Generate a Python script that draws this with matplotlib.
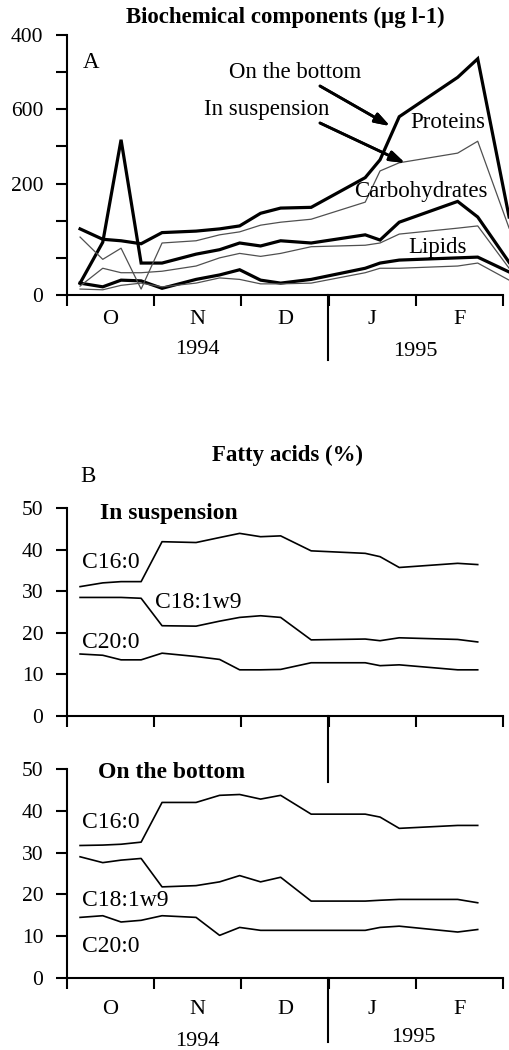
import numpy as np
import matplotlib
matplotlib.use('Agg')
import matplotlib.pyplot as plt
from matplotlib.lines import Line2D

plt.rcParams['font.family'] = ['Liberation Serif', 'DejaVu Serif']

# sampling dates, in months from 1 October 1994
dates = [0.15, 0.41, 0.62, 0.85, 1.09, 1.48, 1.75, 1.98, 2.22, 2.45, 2.80,
         3.42, 3.59, 3.81, 4.48, 4.71, 5.07]
months = ['O', 'N', 'D', 'J', 'F']

# A: biochemical components (axis units as printed)
prot_bottom = [89, 75, 73, 69, 84, 86, 89, 93, 110, 117, 118, 158, 182, 240, 293, 318, 105]
prot_susp = [78, 48, 63, 8, 70, 73, 81, 85, 94, 98, 102, 125, 167, 178, 191, 207, 90]
carb_bottom = [16, 71, 209, 43, 43, 55, 61, 70, 66, 73, 70, 81, 74, 98, 126, 105, 44]
carb_susp = [12, 36, 30, 30, 32, 39, 50, 56, 52, 56, 65, 67, 70, 82, 90, 93, 36]
lip_bottom = [16, 11, 20, 19, 9, 21, 27, 34, 20, 16, 21, 36, 43, 47, 50, 51, 31]
lip_susp = [8, 7, 13, 16, 11, 16, 23, 21, 15, 15, 16, 30, 36, 36, 39, 43, 20]
a_ticks = [0, 50, 100, 150, 200, 250, 300, 350]
a_ticklabels = ['0', '', '', '200', '', '600', '', '400']

# B: fatty acids (%)
c16_susp = [31.1, 32.0, 32.3, 32.3, 41.9, 41.7, 42.9, 43.9, 43.1, 43.3, 39.7, 39.1, 38.3, 35.7, 36.7, 36.4]
c18_susp = [28.5, 28.5, 28.5, 28.3, 21.7, 21.6, 22.8, 23.7, 24.1, 23.7, 18.3, 18.5, 18.1, 18.8, 18.4, 17.8]
c20_susp = [14.9, 14.6, 13.5, 13.5, 15.1, 14.3, 13.6, 11.1, 11.1, 11.2, 12.8, 12.8, 12.1, 12.3, 11.1, 11.1]
c16_bottom = [31.7, 31.8, 32.0, 32.5, 42.0, 42.0, 43.7, 43.9, 42.8, 43.7, 39.2, 39.2, 38.5, 35.8, 36.5, 36.5]
c18_bottom = [29.0, 27.6, 28.2, 28.6, 21.8, 22.1, 23.0, 24.5, 23.0, 24.1, 18.4, 18.4, 18.6, 18.8, 18.8, 18.0]
c20_bottom = [14.5, 14.9, 13.4, 13.8, 14.9, 14.5, 10.2, 12.1, 11.4, 11.4, 11.4, 11.4, 12.1, 12.4, 11.0, 11.6]

W, H = 510, 1050
fig = plt.figure(figsize=(W / 100, H / 100), dpi=100)


def P(px, py):
    return (px / W, 1 - py / H)


def setup(ax, ylim, yticks, yticklabels, month_pad):
    for s in ['top', 'right']:
        ax.spines[s].set_visible(False)
    for s in ['left', 'bottom']:
        ax.spines[s].set_linewidth(1.5)
    ax.set_xlim(0, 5)
    ax.set_ylim(*ylim)
    ax.set_yticks(yticks)
    ax.set_yticklabels(yticklabels)
    ax.set_xticks(range(6))
    ax.set_xticklabels([])
    ax.set_xticks(np.arange(5) + 0.5, minor=True)
    ax.set_xticklabels(months, minor=True)
    ax.tick_params(axis='both', which='major', direction='out', length=8, width=1.5,
                   labelsize=15.5, pad=9)
    ax.tick_params(axis='x', which='minor', length=0, labelsize=16, pad=month_pad)


x0, w = 67 / W, 436 / W
axA = fig.add_axes([x0, 1 - 295 / H, w, 260 / H])
axB = fig.add_axes([x0, 1 - 716 / H, w, 208 / H])
axC = fig.add_axes([x0, 1 - 978 / H, w, 209 / H])

setup(axA, (0, 350), a_ticks, a_ticklabels, 11)
setup(axB, (0, 50), range(0, 51, 10), [str(v) for v in range(0, 51, 10)], 11)
setup(axC, (0, 50), range(0, 51, 10), [str(v) for v in range(0, 51, 10)], 16)
axB.set_xticklabels([], minor=True)

thick = dict(color='black', lw=2.3, clip_on=False, solid_joinstyle='miter')
thin = dict(color='#505050', lw=0.9, clip_on=False)
for ys in [prot_bottom, carb_bottom, lip_bottom]:
    axA.plot(dates, ys, **thick)
for ys in [prot_susp, carb_susp, lip_susp]:
    axA.plot(dates, ys, **thin)

fa = dict(color='black', lw=1.2)
for ys in [c16_susp, c18_susp, c20_susp]:
    axB.plot(dates[:16], ys, **fa)
for ys in [c16_bottom, c18_bottom, c20_bottom]:
    axC.plot(dates[:16], ys, **fa)

# year separators
for y1, y2 in [(295, 360), (716, 782), (978, 1042)]:
    fig.add_artist(Line2D([328 / W, 328 / W], [1 - y1 / H, 1 - y2 / H],
                          transform=fig.transFigure, color='black', lw=1.5))

# texts, panel A
fig.text(*P(285, 17), 'Biochemical components (\u00b5g l-1)', ha='center', va='center',
         fontsize=16.5, fontweight='bold')
fig.text(*P(91, 62), 'A', ha='center', va='center', fontsize=16.5)
fig.text(*P(295, 73), 'On the bottom', ha='center', va='center', fontsize=16.5)
fig.text(*P(267, 110), 'In suspension', ha='center', va='center', fontsize=16.5)
fig.text(*P(448, 122), 'Proteins', ha='center', va='center', fontsize=16.5)
fig.text(*P(421, 192), 'Carbohydrates', ha='center', va='center', fontsize=16.5)
fig.text(*P(438, 247), 'Lipids', ha='center', va='center', fontsize=16.5)
arrow = dict(arrowstyle='-|>,head_length=0.9,head_width=0.3', lw=2, color='black',
             shrinkA=0, shrinkB=0)
fig.add_artist(plt.annotate('', xy=P(390, 126), xytext=P(320, 86),
                            xycoords='figure fraction', arrowprops=arrow))
fig.add_artist(plt.annotate('', xy=P(405, 163), xytext=P(320, 123),
                            xycoords='figure fraction', arrowprops=arrow))
fig.text(*P(197, 350), '1994', ha='center', va='center', fontsize=16)
fig.text(*P(415, 352), '1995', ha='center', va='center', fontsize=16)

# texts, panel B
fig.text(*P(288, 455), 'Fatty acids (%)', ha='center', va='center', fontsize=16.5,
         fontweight='bold')
fig.text(*P(88, 477), 'B', ha='center', va='center', fontsize=16.5)
fig.text(*P(100, 513), 'In suspension', ha='left', va='center', fontsize=17,
         fontweight='bold')
fig.text(*P(82, 563), 'C16:0', ha='left', va='center', fontsize=17)
fig.text(*P(155, 603), 'C18:1w9', ha='left', va='center', fontsize=17)
fig.text(*P(82, 642), 'C20:0', ha='left', va='center', fontsize=17)

# texts, panel C
fig.text(*P(98, 772), 'On the bottom', ha='left', va='center', fontsize=17,
         fontweight='bold')
fig.text(*P(82, 822), 'C16:0', ha='left', va='center', fontsize=17)
fig.text(*P(82, 900), 'C18:1w9', ha='left', va='center', fontsize=17)
fig.text(*P(82, 947), 'C20:0', ha='left', va='center', fontsize=17)
fig.text(*P(197, 1042), '1994', ha='center', va='center', fontsize=16)
fig.text(*P(413, 1038), '1995', ha='center', va='center', fontsize=16)

fig.savefig('out.png', dpi=100)
